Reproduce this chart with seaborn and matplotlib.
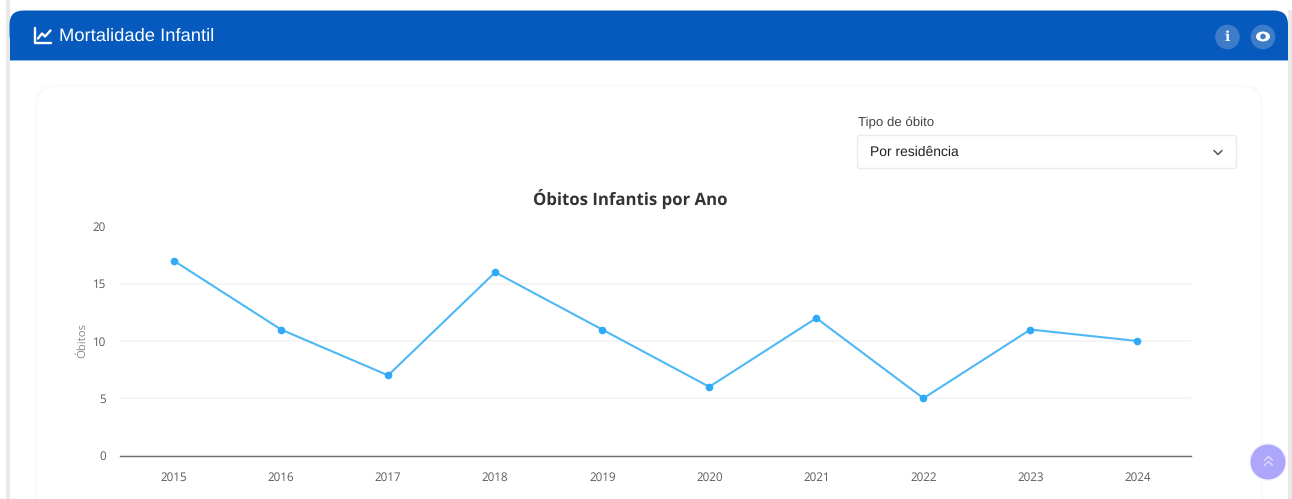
import matplotlib
matplotlib.use("Agg")
import matplotlib.pyplot as plt
from matplotlib.patches import FancyBboxPatch, Rectangle, Circle, Ellipse
import pandas as pd
import seaborn as sns

years = ["2015", "2016", "2017", "2018", "2019", "2020", "2021", "2022", "2023", "2024"]
deaths = [17, 11, 7, 16, 11, 6, 12, 5, 11, 10]
y_ticks = [0, 5, 10, 15, 20]

W, H = 1292, 499
BLUE = "#075ABD"
LINE = "#4DB8F6"
POINT = "#2FA9F8"
UI_FONT = "Liberation Sans"

sns.set_theme(style="white")
plt.rcParams["font.family"] = ["Open Sans", "DejaVu Sans"]
plt.rcParams["text.hinting"] = "no_hinting"

fig = plt.figure(figsize=(W / 100, H / 100), dpi=100, facecolor="white")

# Page furniture lives on a full-figure axes measured in pixels, y downward
ui = fig.add_axes([0, 0, 1, 1], zorder=0)
ui.set_xlim(0, W)
ui.set_ylim(H, 0)
ui.axis("off")

ui.add_patch(Rectangle((6, 0), 3.5, H, fc="#E9E9E9", ec="none"))
ui.add_patch(Rectangle((1288, 10), 4, H, fc="#E9E9E9", ec="none"))

# Rounded header band: curved top, square bottom
ui.add_patch(FancyBboxPatch((9.5 + 14, 10.5 + 14), 1278.5 - 28, 10, boxstyle="round,pad=14,rounding_size=14",
                            fc=BLUE, ec="none"))
ui.add_patch(Rectangle((9.5, 30), 1278.5, 30, fc=BLUE, ec="none"))
ui.add_patch(Rectangle((9.5, 59.8), 1278.5, 0.8, fc="#8DBBE8", ec="none"))

# Header chart glyph
ui.plot([34.5, 34.5, 51], [28, 43, 43], color="white", lw=1.7, solid_capstyle="round")
ui.plot([38, 42, 45, 50.5], [38.5, 33.5, 36.5, 30.5], color="white", lw=1.7, solid_capstyle="round")
ui.text(59, 36, "Mortalidade Infantil", color="white", fontsize=13.2, family=UI_FONT,
        va="center", ha="left")

# Header buttons
ui.add_patch(Circle((1227.5, 37), 12.3, fc="#3D7CC9", ec="none"))
ui.add_patch(Circle((1263, 37), 12.3, fc="#3D7CC9", ec="none"))
ui.text(1227.5, 37, "i", color="white", fontsize=10, fontweight="bold", family="DejaVu Serif",
        ha="center", va="center")
ui.add_patch(Ellipse((1263, 36.5), 14, 10, fc="white", ec="none"))
ui.add_patch(Circle((1263, 36.5), 2.8, fc="#3D7CC9", ec="none"))

# Card with a very faint border
ui.add_patch(FancyBboxPatch((36 + 20, 86 + 20), 1226 - 40, H, boxstyle="round,pad=20,rounding_size=20",
                            fc="white", ec="#FAFAFA", lw=2))

# Select control
ui.text(858, 122.5, "Tipo de óbito", color="#444444", fontsize=9.5, family=UI_FONT, va="center", ha="left")
ui.add_patch(FancyBboxPatch((860, 138), 374, 28, boxstyle="round,pad=2.5,rounding_size=2.5",
                            fc="white", ec="#EBEBEB", lw=1))
ui.text(870, 152, "Por residência", color="#222222", fontsize=10.0, family=UI_FONT, va="center", ha="left")
ui.plot([1214, 1218, 1222], [150.5, 154.5, 150.5], color="#555555", lw=1.1)

# Scroll-to-top button with a soft glow
ui.add_patch(Circle((1268, 462), 19, fc="#F6F4FF", ec="none"))
ui.add_patch(Circle((1268, 462), 17.5, fc="#ADA6FB", ec="none"))
ui.plot([1264.5, 1268.5, 1272.5], [460.5, 456.5, 460.5], color="#DAD7FF", lw=1.1)
ui.plot([1264.5, 1268.5, 1272.5], [465.5, 461.5, 465.5], color="#DAD7FF", lw=1.1)

# Line chart
left, right, top, bottom = 120.5, 1191, 226.5, 455.5
ax = fig.add_axes([left / W, 1 - bottom / H, (right - left) / W, (bottom - top) / H], zorder=1)
ax.patch.set_alpha(0)

data = pd.DataFrame({"Ano": years, "Óbitos": deaths})
sns.lineplot(data=data, x="Ano", y="Óbitos", ax=ax, color=LINE, lw=1.5, marker="o", markersize=5.5,
             markerfacecolor=POINT, markeredgecolor=POINT, markeredgewidth=0, sort=False, zorder=3)

ax.set_xlim(-0.5, len(years) - 0.5)
ax.set_ylim(0, 20)
ax.set_yticks(y_ticks)
ax.grid(axis="y", color="#F5F5F5", lw=1.4)
ax.grid(axis="x", visible=False)
ax.set_axisbelow(True)
for side in ("top", "right", "left"):
    ax.spines[side].set_visible(False)
ax.spines["bottom"].set_color("#6E6E6E")
ax.spines["bottom"].set_linewidth(1.0)
ax.tick_params(axis="both", length=0, labelsize=8.4, labelcolor="#5A5A5A")
ax.tick_params(axis="x", pad=11.5)
ax.tick_params(axis="y", pad=10.5)
ax.set_xlabel("")
ax.set_ylabel("")

# Axis title and chart title placed on the page axes
ui.text(82, 341, "Óbitos", rotation=90, color="#888888", fontsize=8.2, ha="center", va="center")
ui.text(630.5, 198.5, "Óbitos Infantis por Ano", color="#333333", fontsize=12.05, fontweight="bold",
        ha="center", va="center")

fig.savefig("out.png", dpi=100, facecolor="white")
